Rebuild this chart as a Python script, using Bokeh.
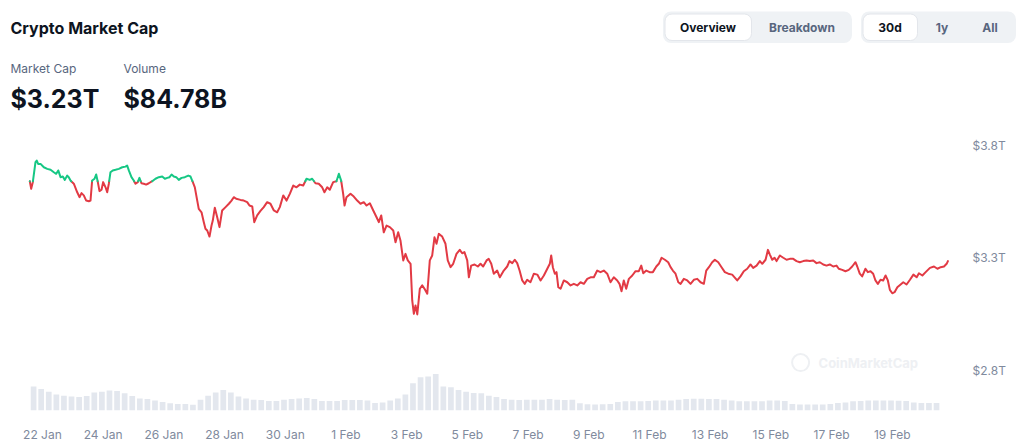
from bokeh.plotting import figure
from bokeh.layouts import column
from bokeh.models import Range1d, FixedTicker, PrintfTickFormatter, Label
from bokeh.embed import file_html
from bokeh.resources import INLINE
from bokeh.core.properties import value

FONT = "Inter"
DARK = "#0d1421"
GRAY = "#58667e"
AXIS_GRAY = "#808a9d"
GREEN = "#16c784"
RED = "#e23a44"

# ---------------- data ----------------
START = "2025-01-21 14:00"      # hour 0 of the readings
HOURS_TO_22JAN = 10             # 22 Jan 00:00 is 10 h after START

hours = [
    0.0, 1.1, 2.4, 4.5, 5.5, 6.6, 8.5, 11.1, 13.8, 16.4,
    19.0, 20.9, 22.5, 24.3, 26.1, 27.7, 29.6, 30.8, 32.2, 34.8,
    37.5, 39.3, 40.9, 42.7, 44.6, 46.7, 48.0, 49.3, 51.2, 52.5,
    53.8, 55.1, 56.7, 58.0, 59.9, 61.2, 62.5, 63.8, 65.6, 67.8,
    70.4, 73.1, 75.7, 77.0, 78.3, 80.4, 82.2, 83.6, 85.4, 86.7,
    88.3, 90.1, 92.0, 94.1, 96.8, 99.4, 102.0, 104.7, 106.8, 108.7,
    110.5, 112.1, 113.9, 115.8, 117.8, 120.0, 122.6, 125.3, 127.1, 128.4,
    130.5, 132.4, 133.6, 135.8, 137.6, 138.9, 140.3, 142.1, 143.7, 144.7,
    146.3, 148.2, 150.0, 152.1, 154.8, 157.4, 159.5, 161.3, 163.2, 166.6,
    169.2, 171.9, 173.7, 175.9, 177.5, 179.8, 182.4,
    185.0, 187.7, 190.3, 193.0, 195.6, 197.7, 200.4, 203.0, 205.6, 208.3,
    210.9, 213.5, 216.2, 218.8, 221.4, 223.3, 225.9, 228.5, 231.2, 233.0,
    235.2, 237.2, 239.9, 242.5, 244.4, 246.2, 247.8, 248.9, 250.4, 253.6,
    256.2, 258.9, 261.5, 264.1, 266.3, 268.9, 271.6, 274.2, 276.0, 277.9,
    279.9, 282.1, 284.7, 287.4, 289.2, 291.3, 293.1, 295.3, 297.1, 298.9,
    301.1, 302.4, 303.7, 305.0, 306.4, 308.4, 310.3, 312.1, 314.3, 316.3,
    318.2, 320.0, 321.6, 323.4, 326.1, 328.7, 330.5, 332.7, 334.8, 337.4,
    340.0, 341.9, 343.7, 345.9, 347.2, 349.0, 351.7, 354.3, 356.4, 358.5,
    361.2, 362.9, 364.9, 366.9, 369.6, 371.7,
    374.8, 377.5, 379.3, 381.5, 383.5, 385.4, 387.3, 389.4, 391.4, 393.3,
    395.9, 398.6, 401.3, 403.9, 406.5, 409.2, 411.2, 412.3, 413.6, 415.2,
    416.5, 417.9, 419.7, 422.3, 425.0, 427.6, 430.2, 432.9, 435.5, 438.1,
    440.8, 443.4, 446.0, 448.7, 451.3, 453.9, 456.6, 459.2, 461.8, 464.5,
    466.3, 467.9, 469.7, 471.6, 473.7, 476.4, 479.0, 481.6, 483.5, 485.1,
    487.5, 490.1, 492.7, 495.4, 497.4, 499.6, 502.2, 504.8, 506.7, 508.5,
    510.6, 512.8, 514.6, 517.2, 519.9, 522.5, 525.1, 527.8, 530.4, 533.0,
    534.9, 537.0, 539.6, 541.7, 544.4, 547.0, 549.6, 552.3, 555.4, 557.3,
    559.4, 562.0, 564.6, 567.3, 569.9, 572.0, 574.7, 577.3, 579.2, 581.8,
    583.7, 585.2, 587.1, 588.9, 590.5, 593.1, 595.8, 598.4, 601.0, 603.7,
    606.3, 608.9, 611.6, 614.2, 616.8, 619.5, 622.1, 624.7, 627.4, 630.0,
    632.6, 635.3, 637.9, 639.7, 642.4, 645.0, 647.6, 650.3, 652.9, 654.3,
    656.3, 658.2, 660.8, 662.7, 664.8, 666.9, 668.7, 670.6, 672.7, 674.8,
    676.7, 678.5, 680.1, 682.0, 683.8, 686.0, 688.6, 690.7, 693.3, 696.0,
    698.7, 701.3, 703.1, 705.8, 708.4, 711.8, 715.0, 717.7, 720.3, 722.9,
    725.0, 726.0,
]

market_cap_t = [
    3.639, 3.605, 3.635, 3.724, 3.731, 3.716, 3.716, 3.701, 3.694, 3.690,
    3.679, 3.672, 3.687, 3.657, 3.660, 3.645, 3.664, 3.657, 3.642, 3.628,
    3.590, 3.568, 3.586, 3.576, 3.553, 3.550, 3.553, 3.642, 3.650, 3.669,
    3.635, 3.595, 3.601, 3.635, 3.612, 3.590, 3.628, 3.679, 3.687, 3.690,
    3.694, 3.701, 3.704, 3.709, 3.687, 3.657, 3.642, 3.628, 3.635, 3.654,
    3.630, 3.628, 3.624, 3.630, 3.639, 3.650, 3.657, 3.660, 3.650, 3.654,
    3.657, 3.669, 3.660, 3.657, 3.645, 3.654, 3.657, 3.664, 3.660, 3.642,
    3.612, 3.553, 3.516, 3.501, 3.457, 3.428, 3.420, 3.393, 3.442, 3.464,
    3.521, 3.479, 3.435, 3.509, 3.524, 3.539, 3.553, 3.568, 3.561, 3.556,
    3.553, 3.546, 3.531, 3.527, 3.457, 3.487, 3.507,
    3.524, 3.546, 3.539, 3.509, 3.501, 3.524, 3.576, 3.553, 3.583, 3.620,
    3.612, 3.624, 3.620, 3.650, 3.645, 3.650, 3.630, 3.628, 3.612, 3.590,
    3.612, 3.601, 3.635, 3.639, 3.672, 3.642, 3.583, 3.531, 3.568, 3.583,
    3.571, 3.553, 3.539, 3.546, 3.531, 3.541, 3.509, 3.479, 3.457, 3.487,
    3.412, 3.442, 3.435, 3.420, 3.368, 3.412, 3.376, 3.287, 3.316, 3.287,
    3.272, 3.109, 3.050, 3.087, 3.047, 3.161, 3.176, 3.161, 3.139, 3.287,
    3.309, 3.390, 3.361, 3.405, 3.393, 3.361, 3.287, 3.257, 3.272, 3.316,
    3.334, 3.319, 3.324, 3.287, 3.212, 3.264, 3.269, 3.260, 3.272, 3.260,
    3.287, 3.294, 3.272, 3.228, 3.242, 3.212,
    3.242, 3.260, 3.284, 3.275, 3.290, 3.275, 3.242, 3.198, 3.183, 3.201,
    3.190, 3.228, 3.224, 3.198, 3.220, 3.250, 3.272, 3.309, 3.257, 3.228,
    3.235, 3.168, 3.161, 3.198, 3.190, 3.176, 3.183, 3.176, 3.190, 3.183,
    3.205, 3.212, 3.212, 3.242, 3.235, 3.242, 3.228, 3.190, 3.212, 3.198,
    3.183, 3.150, 3.198, 3.161, 3.205, 3.220, 3.239, 3.239, 3.264, 3.230,
    3.242, 3.235, 3.235, 3.260, 3.272, 3.299, 3.290, 3.279, 3.257, 3.242,
    3.228, 3.190, 3.183, 3.205, 3.198, 3.183, 3.201, 3.205, 3.190, 3.183,
    3.242, 3.257, 3.279, 3.290, 3.279, 3.257, 3.235, 3.228, 3.224, 3.212,
    3.198, 3.216, 3.239, 3.250, 3.269, 3.254, 3.264, 3.284, 3.272, 3.290,
    3.334, 3.313, 3.290, 3.299, 3.284, 3.309, 3.299, 3.290, 3.294, 3.294,
    3.284, 3.279, 3.284, 3.287, 3.284, 3.287, 3.275, 3.279, 3.269, 3.264,
    3.269, 3.260, 3.264, 3.250, 3.245, 3.239, 3.245, 3.260, 3.279, 3.260,
    3.228, 3.216, 3.250, 3.235, 3.239, 3.228, 3.198, 3.183, 3.201, 3.198,
    3.220, 3.198, 3.156, 3.141, 3.146, 3.168, 3.180, 3.190, 3.180, 3.201,
    3.224, 3.212, 3.230, 3.220, 3.235, 3.254, 3.260, 3.250, 3.257, 3.260,
    3.272, 3.284,
]
assert len(hours) == len(market_cap_t)

# volume (billions USD), one bar per 6 hours starting at hour 0
VOL_STEP_H = 6
volume_b = [
    144, 135, 126, 116, 112, 109, 107, 111, 123, 126,
    130, 128, 120, 111, 102, 100, 95, 90, 85, 83,
    83, 80, 98, 112, 123, 132, 123, 109, 102, 98,
    97, 93, 93, 98, 100, 102, 104, 100, 93, 93,
    93, 97, 97, 97, 95, 86, 88, 95, 102, 116,
    155, 176, 179, 188, 144, 141, 132, 126, 121, 120,
    112, 107, 100, 98, 97, 98, 98, 98, 100, 98,
    97, 98, 85, 82, 81, 82, 83, 90, 92, 92,
    92, 93, 95, 95, 95, 98, 100, 101, 101, 100,
    100, 98, 95, 92, 92, 92, 92, 95, 95, 93,
    83, 81, 81, 81, 81, 83, 86, 88, 92, 93,
    95, 95, 95, 95, 94, 93, 88, 86, 86, 86,
]

tick_days = [0, 2, 4, 6, 8, 10, 12, 14, 16, 18, 20, 22, 24, 26, 28]
tick_labels = ["22 Jan", "24 Jan", "26 Jan", "28 Jan", "30 Jan", "1 Feb", "3 Feb",
               "5 Feb", "7 Feb", "9 Feb", "11 Feb", "13 Feb", "15 Feb", "17 Feb", "19 Feb"]
y_ticks = [2.8, 3.3, 3.8]

header_title = "Crypto Market Cap"
stat_labels = ["Market Cap", "Volume"]
stat_values = ["$3.23T", "$84.78B"]

# ---------------- derived ----------------
days = [(h - HOURS_TO_22JAN) / 24 for h in hours]
vol_days = [((i + 0.5) * VOL_STEP_H - HOURS_TO_22JAN) / 24 for i in range(len(volume_b))]
threshold = market_cap_t[0]


def split_by_threshold(xs, ys, thr):
    out = {True: ([], []), False: ([], [])}
    side = ys[0] >= thr
    cx, cy = [xs[0]], [ys[0]]
    for i in range(1, len(xs)):
        x0, y0, x1, y1 = xs[i - 1], ys[i - 1], xs[i], ys[i]
        s = y1 >= thr
        if s == side:
            cx.append(x1); cy.append(y1)
        else:
            t = (thr - y0) / (y1 - y0)
            xc = x0 + t * (x1 - x0)
            cx.append(xc); cy.append(thr)
            out[side][0].append(cx); out[side][1].append(cy)
            cx, cy = [xc, x1], [thr, y1]
            side = s
    out[side][0].append(cx); out[side][1].append(cy)
    return out


segs = split_by_threshold(days, market_cap_t, threshold)

# ---------------- header ----------------
HEAD_H = 125
hdr = figure(width=1031, height=HEAD_H, x_range=Range1d(0, 1031), y_range=Range1d(HEAD_H, 0),
             x_axis_type=None, y_axis_type=None, toolbar_location=None,
             output_backend="svg", min_border=0, outline_line_color=None)
hdr.grid.visible = False
hdr.frame_align = False

hdr.text(x=[10], y=[27], text=[header_title], text_font=value(FONT), text_font_size="16px",
         text_font_style="bold", text_color=DARK, text_baseline="middle")
hdr.text(x=[10, 123], y=[67.5, 67.5], text=stat_labels, text_font=value(FONT),
         text_font_size="12px", text_color=GRAY, text_baseline="middle")
hdr.text(x=[10, 123], y=[98, 98], text=stat_values, text_font=value(FONT),
         text_font_size="25px", text_font_style="bold", text_color=DARK,
         text_baseline="middle")

# button groups
hdr.quad(left=[662.5, 860.5], right=[851.5, 1015.5], top=[11, 11], bottom=[42.5, 42.5],
         fill_color="#eff2f5", line_color=None, border_radius=8)
hdr.quad(left=[664.5, 862.5], right=[751, 917], top=[13.5, 13.5], bottom=[40, 40],
         fill_color="white", line_color="#e3e6eb", border_radius=7)
hdr.text(x=[707.5, 889.5], y=[27, 27], text=["Overview", "30d"], text_font=value(FONT),
         text_font_size="12px", text_font_style="bold", text_color=DARK,
         text_align="center", text_baseline="middle")
hdr.text(x=[801.5, 941.5, 989.5], y=[27, 27, 27], text=["Breakdown", "1y", "All"],
         text_font=value(FONT), text_font_size="12px", text_font_style="bold",
         text_color=GRAY, text_align="center", text_baseline="middle")

# ---------------- chart ----------------
p = figure(width=1031, height=447 - HEAD_H,
           x_range=Range1d(-1.382, 30.248), y_range=Range1d(2.62, 3.8867),
           y_axis_location="right", toolbar_location=None, output_backend="svg",
           min_border_left=0, min_border_right=71, min_border_top=0, min_border_bottom=37,
           outline_line_color=None)
p.grid.visible = False
p.frame_align = False
p.extra_y_ranges = {"vol": Range1d(60, 1057.5)}

p.vbar(x=vol_days, width=4.5 / 24, top=volume_b, bottom=60, y_range_name="vol",
       fill_color="#e3e7ee", line_color=None)

p.multi_line(xs=segs[False][0], ys=segs[False][1], line_color=RED, line_width=2,
             line_join="round", line_cap="round")
p.multi_line(xs=segs[True][0], ys=segs[True][1], line_color=GREEN, line_width=2,
             line_join="round", line_cap="round")

# watermark
p.add_layout(Label(x=25.57, y=2.833, text="CoinMarketCap", text_font=FONT,
                   text_font_size="13px", text_font_style="bold", text_color="#eef0f3",
                   text_baseline="middle"))
p.scatter(x=[24.98], y=[2.833], marker="circle", size=17, fill_color=None,
          line_color="#eef0f3", line_width=2)

xa = p.xaxis[0]
xa.ticker = FixedTicker(ticks=tick_days)
xa.major_label_overrides = dict(zip(tick_days, tick_labels))
ya = p.yaxis[0]
ya.ticker = FixedTicker(ticks=y_ticks)
ya.formatter = PrintfTickFormatter(format="$%.1fT")
for ax in (xa, ya):
    ax.axis_line_color = None
    ax.major_tick_line_color = None
    ax.minor_tick_line_color = None
    ax.major_tick_out = 0
    ax.major_tick_in = 0
    ax.major_label_text_font = FONT
    ax.major_label_text_font_size = "12px"
    ax.major_label_text_color = AXIS_GRAY
xa.major_label_standoff = 16
ya.major_label_standoff = 12

layout = column(hdr, p, spacing=0)
open("out.html", "w").write(file_html(layout, INLINE))
